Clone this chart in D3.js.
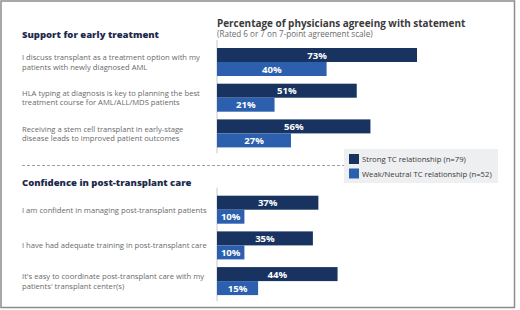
<!DOCTYPE html>
<html>
<head>
<meta charset="utf-8">
<script src="https://cdn.jsdelivr.net/npm/d3@7"></script>
<style>
  body { margin: 0; background: #fff; }
  svg { display: block; font-family: "Open Sans", sans-serif; }
</style>
</head>
<body>
<div id="chart"></div>
<script>
var width = 520;
var height = 310;

// data
var seriesKeys = ['strong', 'weak'];
var seriesLabels = ['Strong TC relationship (n=79)', 'Weak/Neutral TC relationship (n=52)'];
var seriesColors = ['#18335f', '#2c60ae'];

var earlyStatements = [
  ['I discuss transplant as a treatment option with my', 'patients with newly diagnosed AML'],
  ['HLA typing at diagnosis is key to planning the best', 'treatment course for AML/ALL/MDS patients'],
  ['Receiving a stem cell transplant in early-stage', 'disease leads to improved patient outcomes']
];
var earlyStrong = [73, 51, 56];
var earlyWeak = [40, 21, 27];

var postStatements = [
  ['I am confident in managing post-transplant patients'],
  ['I have had adequate training in post-transplant care'],
  ["It's easy to coordinate post-transplant care with my", "patients' transplant center(s)"]
];
var postStrong = [37, 35, 44];
var postWeak = [10, 10, 15];

var sectionTitles = ['Support for early treatment', 'Confidence in post-transplant care'];
var chartTitle = 'Percentage of physicians agreeing with statement';
var chartSubtitle = '(Rated 6 or 7 on 7-point agreement scale)';

var svg = d3.select("#chart")
    .append("svg")
    .attr("width", width)
    .attr("height", height);

// outer frame
svg.append("rect")
    .attr("x", 1).attr("y", 1)
    .attr("width", 513.5).attr("height", 306.5)
    .attr("fill", "none")
    .attr("stroke", "#8c8c8c")
    .attr("stroke-width", 1.5);

var x = d3.scaleLinear()
    .domain([0, 100])
    .range([217, 491]);

var inner = d3.scaleBand()
    .domain(seriesKeys)
    .range([0, 28]);

var color = d3.scaleOrdinal()
    .domain(seriesKeys)
    .range(seriesColors);

function drawSection(title, statements, strong, weak, y0, titleY) {
    var rows = statements.map(function(s, i) {
        return { lines: s, strong: strong[i], weak: weak[i], id: i };
    });

    var y = d3.scaleBand()
        .domain(d3.range(rows.length))
        .range([y0, y0 + 35.7 * 2 + 28])
        .paddingInner(7.7 / 35.7)
        .paddingOuter(0);

    // section heading
    svg.append("text")
        .attr("x", 22)
        .attr("y", titleY)
        .attr("fill", "#1c2a4e")
        .style("font-size", "9.5px")
        .style("font-weight", 800)
        .text(title);

    // vertical axis line
    svg.append("line")
        .attr("x1", x(0)).attr("x2", x(0))
        .attr("y1", y0 - 8).attr("y2", y0 + 35.7 * 2 + 28 + 6)
        .attr("stroke", "#c8c8c8")
        .attr("stroke-width", 1);

    var g = svg.append("g")
        .selectAll("g.row")
        .data(rows)
        .enter().append("g")
        .attr("class", "row")
        .attr("transform", function(d) { return "translate(0," + y(d.id) + ")"; });

    // statement labels
    g.append("text")
        .attr("x", 22)
        .attr("fill", "#6a6a6a")
        .style("font-size", "7.65px")
        .each(function(d) {
            var t = d3.select(this);
            var lh = 9.6;
            var start = y.bandwidth() / 2 + 3 - (d.lines.length - 1) * lh / 2;
            d.lines.forEach(function(line, k) {
                t.append("tspan")
                    .attr("x", 22)
                    .attr("y", start + k * lh)
                    .text(line);
            });
        });

    var bars = g.selectAll("g.bar")
        .data(function(d) { return seriesKeys.map(function(k) { return { key: k, value: d[k] }; }); })
        .enter().append("g")
        .attr("class", "bar");

    bars.append("rect")
        .attr("x", x(0))
        .attr("y", function(d) { return inner(d.key); })
        .attr("width", function(d) { return x(d.value) - x(0); })
        .attr("height", inner.bandwidth())
        .attr("fill", function(d) { return color(d.key); });

    bars.append("text")
        .attr("x", function(d) { return (x(0) + x(d.value)) / 2; })
        .attr("y", function(d) { return inner(d.key) + inner.bandwidth() / 2 + 3.6; })
        .attr("text-anchor", "middle")
        .attr("fill", "#fff")
        .style("font-size", "9.6px")
        .style("font-weight", 700)
        .text(function(d) { return d.value + "%"; });
}

drawSection(sectionTitles[0], earlyStatements, earlyStrong, earlyWeak, 48, 37.5);
drawSection(sectionTitles[1], postStatements, postStrong, postWeak, 195.7, 185.7);

// chart title
svg.append("text")
    .attr("x", 217)
    .attr("y", 26.5)
    .attr("fill", "#3a3a3a")
    .style("font-size", "9.95px")
    .style("font-weight", 700)
    .text(chartTitle);

svg.append("text")
    .attr("x", 217)
    .attr("y", 37)
    .attr("fill", "#6a6a6a")
    .style("font-size", "8.1px")
    .text(chartSubtitle);

// dashed separator
svg.append("line")
    .attr("x1", 22).attr("x2", 344)
    .attr("y1", 165.5).attr("y2", 165.5)
    .attr("stroke", "#a0a0a0")
    .attr("stroke-dasharray", "3,2");

// legend
var legendBox = svg.append("g")
    .attr("transform", "translate(344,149)");

legendBox.append("rect")
    .attr("width", 154)
    .attr("height", 34)
    .attr("fill", "#eeeff0");

var legend = legendBox.selectAll("g.leg")
    .data(seriesKeys)
    .enter().append("g")
    .attr("class", "leg")
    .attr("transform", function(d, i) { return "translate(5," + (5 + i * 14.5) + ")"; });

legend.append("rect")
    .attr("width", 10)
    .attr("height", 10)
    .attr("fill", function(d) { return color(d); });

legend.append("text")
    .attr("x", 13)
    .attr("y", 8.3)
    .attr("fill", "#3a3a3a")
    .style("font-size", "7.7px")
    .text(function(d, i) { return seriesLabels[i]; });
</script>
</body>
</html>
